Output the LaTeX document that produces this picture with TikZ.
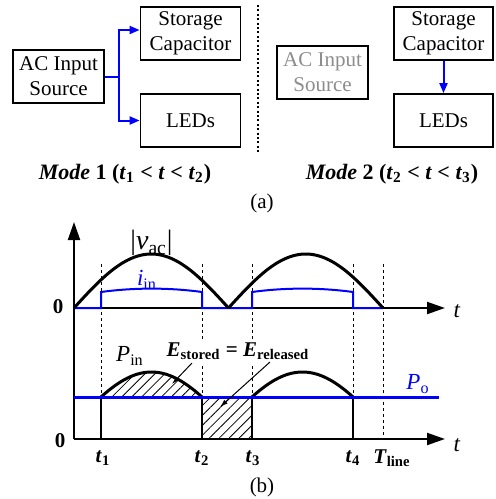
\documentclass[tikz,border=0pt]{standalone}
\usepackage{fontspec}
\setmainfont{Liberation Serif}
\usetikzlibrary{arrows.meta,patterns.meta}

\tikzset{
  blockbox/.style={draw, line width=0.9pt, minimum width=50pt, minimum height=26.5pt, align=center, inner sep=0pt},
  feed/.style={draw=blue, line width=1pt, -{Triangle[length=5pt,width=4pt]}},
  axisline/.style={line width=1pt, -{Triangle[length=9pt,width=6pt]}},
  guide/.style={line width=0.5pt, dash pattern=on 1.5pt off 1.5pt},
  wave/.style={line width=1.5pt},
  hatch/.style={pattern={Lines[angle=45,distance=3.5pt,line width=0.4pt]}},
  pointer/.style={line width=0.5pt, -{Latex[length=4pt,width=2.5pt]}},
  biglabel/.style={font=\fontsize{11.5}{13}\selectfont}
}

\begin{document}
\fontsize{10.5}{12.5}\selectfont
\begin{tikzpicture}[x=0.5pt,y=-0.5pt]
    \useasboundingbox (0,0) rectangle (495,499);

    \node[blockbox, minimum width=45.5pt] (src) at (58.5,76.5) {AC Input\\Source};
    \node[blockbox] (cap) at (190.5,33.5) {Storage\\Capacitor};
    \node[blockbox] (led) at (190.5,120.5) {LEDs};
    \draw[feed] (src.east) -- ++(14,0) coordinate (fork) |- ([yshift=1.75pt]cap.west);
    \draw[feed] (fork) |- (led.west);
    \node[font=\fontsize{11}{13}\selectfont\bfseries] (modeone) at (125,174)
      {\textit{Mode} 1 (\textit{t}\textsubscript{1} < \textit{t} < \textit{t}\textsubscript{2})};

    \draw[line width=0.6pt, dash pattern=on 1pt off 1.2pt] (258,5) -- (258,152);

    \node[blockbox, minimum width=45.5pt, text=black!45] (srcoff) at (322.5,72.5) {AC Input\\Source};
    \node[blockbox, minimum width=49.5pt] (capon) at (443.5,33.5) {Storage\\Capacitor};
    \node[blockbox, minimum width=49.5pt] (ledon) at (443.5,120.5) {LEDs};
    \draw[feed] (capon.south) -- (ledon.north);
    \node[font=\fontsize{11}{13}\selectfont\bfseries] (modetwo) at (392,174)
      {\textit{Mode} 2 (\textit{t}\textsubscript{2} < \textit{t} < \textit{t}\textsubscript{3})};

    \node (parta) at (262,203) {(a)};

    \foreach \x in {101,202,252,353}
      \draw[guide] (\x,264) -- (\x,397);
    \draw[guide] (383,264) -- (383,439);

    \fill[hatch] plot[domain=31.5:148.5,samples=40] ({101+(\x-31.5)/117*101},{424.3-52.3*sin(\x)}) -- cycle;
    \fill[hatch] (202,397) rectangle (252,439);

    \draw[axisline] (74,439) -- (74,222);
    \draw[axisline] (74,308) -- (445,308);
    \draw[axisline] (74,439) -- (445,439);

    \draw[blue, line width=1pt] (74,308) -- (101,308) -- (101,292)
      .. controls (134,287.5) and (169,287.5) .. (202,292) -- (202,308) -- (252,308) -- (252,292)
      .. controls (285,287.5) and (320,287.5) .. (353,292) -- (353,308) -- (383,308);
    \foreach \xo in {74,228.5}
      \draw[wave] plot[domain=0:180,samples=50] ({\xo+\x/180*154.5},{308-54*sin(\x)});

    \foreach \xo in {101,252}
      \draw[wave] plot[domain=31.5:148.5,samples=40] ({\xo+(\x-31.5)/117*101},{424.3-52.3*sin(\x)});
    \foreach \x in {101,202,252,353}
      \draw[line width=1.1pt] (\x,397) -- (\x,439);
    \draw[blue, line width=1.5pt] (74,397) -- (439,397);

    \node[font=\fontsize{14}{16}\selectfont] (vac) at (151.5,243) {|\textit{v}\textsubscript{ac}|};
    \node[biglabel, text=blue] (iin) at (147,280) {\textit{i}\textsubscript{in}};
    \node[biglabel] (pin) at (130,356) {\textit{P}\textsubscript{in}};
    \node[biglabel, text=blue] (po) at (418,384) {\textit{P}\textsubscript{o}};
    \node[fill=white, inner sep=1.5pt, font=\bfseries] (energy) at (238,351)
      {\textit{E}\textsubscript{stored} = \textit{E}\textsubscript{released}};
    \coordinate (storedfoot) at (192,363);
    \coordinate (storedtip) at (172,384);
    \coordinate (releasedfoot) at (270,362);
    \coordinate (releasedtip) at (220,407);
    \draw[pointer] (storedfoot) -- (storedtip);
    \draw[pointer] (releasedfoot) -- (releasedtip);

    \node[biglabel] (tup) at (457,311) {\textit{t}};
    \node[biglabel] (tlow) at (457,445) {\textit{t}};
    \node[font=\bfseries] (zup) at (58,307) {0};
    \node[font=\bfseries] (zlow) at (60,441) {0};
    \foreach \x/\n in {103/1,202/2,253/3,353/4}
      \node[font=\bfseries] (t\n) at (\x,458) {\textit{t}\textsubscript{\n}};
    \node[font=\bfseries] (tline) at (392,458) {\textit{T}\textsubscript{line}};

    \node (partb) at (262,487) {(b)};
\end{tikzpicture}
\end{document}
